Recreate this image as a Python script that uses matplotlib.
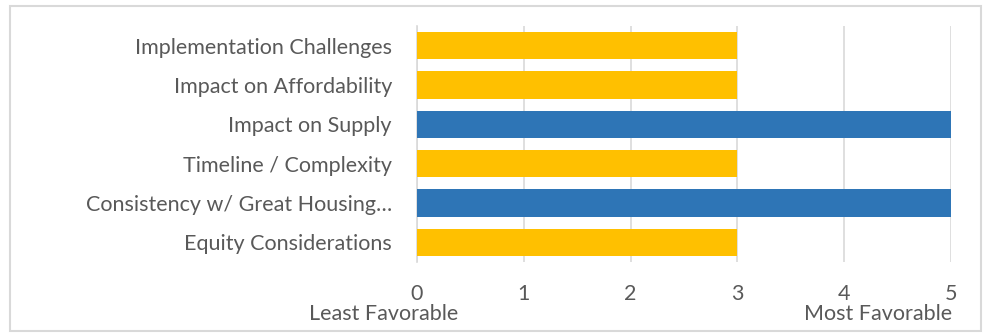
import matplotlib.pyplot as plt
from matplotlib.patches import Rectangle

categories = ["Implementation Challenges", "Impact on Affordability", "Impact on Supply",
              "Timeline / Complexity", "Consistency w/ Great Housing\u2026", "Equity Considerations"]
scores = [3, 3, 5, 3, 5, 3]
bar_colors = ["#FFC000", "#FFC000", "#2E75B6", "#FFC000", "#2E75B6", "#FFC000"]
x_ticks = [0, 1, 2, 3, 4, 5]

plt.rcParams['font.family'] = ['Lato', 'DejaVu Sans']
text_color = "#595959"
fs = 15.5

fig = plt.figure(figsize=(9.84, 3.33), dpi=100)
W, H = 984, 333
ax = fig.add_axes([417 / W, 1 - 262 / H, (951 - 417) / W, (262 - 26) / H])

y = list(range(len(categories)))[::-1]
ax.barh(y, scores, height=0.69, color=bar_colors, zorder=3)
ax.set_xlim(0, 5)
ax.set_ylim(-0.5, len(categories) - 0.5)
ax.set_xticks(x_ticks)
ax.set_xticklabels([str(t) for t in x_ticks], fontsize=fs, color=text_color)
ax.set_yticks(y)
ax.set_yticklabels(categories, fontsize=fs, color=text_color)
ax.tick_params(axis='both', length=0)
ax.tick_params(axis='x', pad=15.5)
ax.tick_params(axis='y', pad=18)
ax.grid(axis='x', color="#D9D9D9", linewidth=1.2, zorder=0)
for s in ["top", "right", "bottom"]:
    ax.spines[s].set_visible(False)
ax.spines["left"].set_color("#D9D9D9")
ax.spines["left"].set_linewidth(1.2)

fig.text(384 / W, 1 - 314 / H, "Least Favorable", fontsize=fs, color=text_color,
         ha='center', va='center')
fig.text(878 / W, 1 - 314 / H, "Most Favorable", fontsize=fs, color=text_color,
         ha='center', va='center')

# chart frame
fig.patches.append(Rectangle((10 / W, 1 - 331 / H), (981 - 10) / W, (331 - 6) / H,
                             transform=fig.transFigure, fill=False,
                             edgecolor="#D9D9D9", linewidth=1.5))

fig.savefig("out.png", dpi=100)
